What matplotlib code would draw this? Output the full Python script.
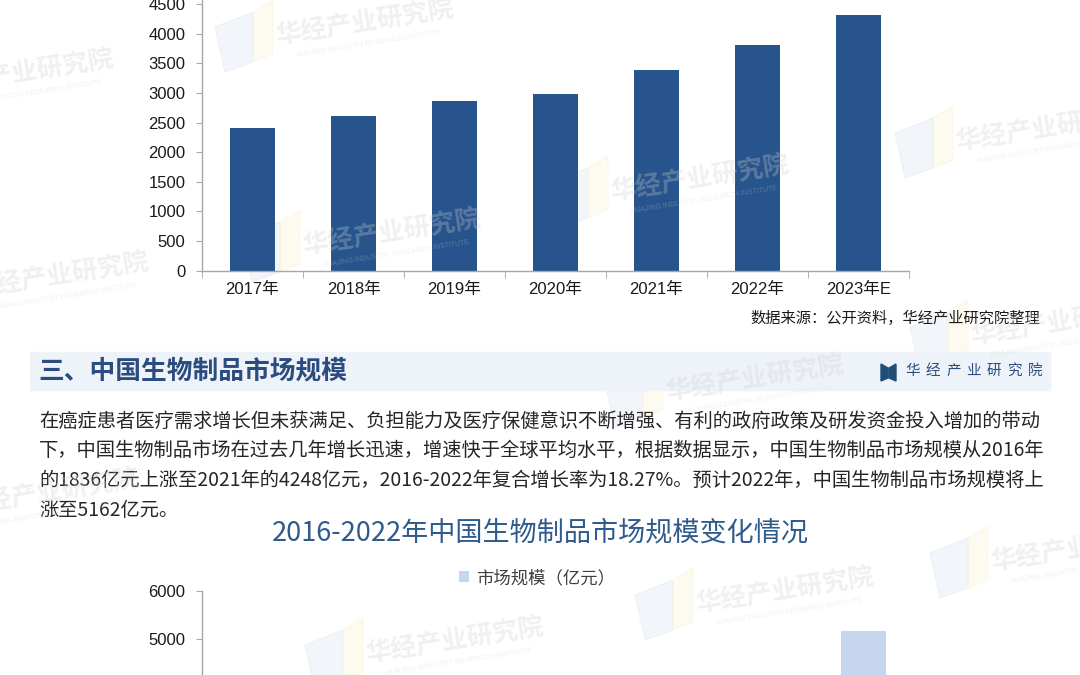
import numpy as np
import matplotlib
matplotlib.use('Agg')
import matplotlib.pyplot as plt
from matplotlib.patches import Rectangle, Polygon

# ---- data ----
years_top = ['2017年', '2018年', '2019年', '2020年', '2021年', '2022年', '2023年E']
values_top = [2400, 2610, 2870, 2975, 3385, 3805, 4310]

years_bottom = ['2016年', '2017年', '2018年', '2019年', '2020年', '2021年', '2022年']
values_bottom = [1836, 2185, 2622, 3172, 3697, 4248, 5162]
legend_label = '市场规模（亿元）'

source_text = '数据来源：公开资料，华经产业研究院整理'
section_title = '三、中国生物制品市场规模'
brand = '华经产业研究院'
chart2_title = '2016-2022年中国生物制品市场规模变化情况'
body_lines = [
    '在癌症患者医疗需求增长但未获满足、负担能力及医疗保健意识不断增强、有利的政府政策及研发资金投入增加的带动',
    '下，中国生物制品市场在过去几年增长迅速，增速快于全球平均水平，根据数据显示，中国生物制品市场规模从2016年',
    '的1836亿元上涨至2021年的4248亿元，2016-2022年复合增长率为18.27%。预计2022年，中国生物制品市场规模将上',
    '涨至5162亿元。',
]

W, H = 1080, 675
CJK = ['Noto Sans CJK SC', 'DejaVu Sans']
LAT = ['Liberation Sans', 'Noto Sans CJK SC']
plt.rcParams['font.family'] = LAT


def fx(px):
    return px / W


def fy(py):
    return 1 - py / H


fig = plt.figure(figsize=(10.8, 6.75), dpi=100)
fig.patch.set_facecolor('white')


def style_axes(ax, labels):
    for s in ['top', 'right']:
        ax.spines[s].set_visible(False)
    for s in ['left', 'bottom']:
        ax.spines[s].set_color('#A6A6A6')
        ax.spines[s].set_linewidth(1)
    ax.set_xlim(-0.5, 6.5)
    ax.set_xticks(range(len(labels)))
    ax.set_xticklabels(labels, fontsize=12, color='#1A1A1A')
    ax.set_xticks(np.arange(-0.5, 7, 1), minor=True)
    ax.tick_params(axis='x', which='major', length=0, pad=8)
    ax.tick_params(axis='x', which='minor', length=5, color='#A6A6A6')
    ax.tick_params(axis='y', length=4, color='#A6A6A6', labelsize=12,
                   labelcolor='#1A1A1A', pad=8)
    ax.set_facecolor('none')


# ---- faint watermarks (drawn first, behind everything) ----
wm_spots = [(365, 22), (25, 72), (700, 178), (392, 232), (1045, 128), (60, 275),
            (755, 378), (1060, 322), (50, 492), (785, 590), (455, 640), (1080, 548)]
for x, y in wm_spots:
    fig.text(fx(x), fy(y), brand, ha='center', va='center', fontsize=18.5,
             rotation=9, color='#CFCFCF', alpha=0.3, family=CJK,
             fontweight='bold', zorder=10)
    fig.text(fx(x + 4), fy(y + 22), 'HUAJING INDUSTRY RESEARCH INSTITUTE',
             ha='center', va='center', fontsize=5, rotation=9, color='#CFCFCF',
             alpha=0.3, zorder=10)
    fig.patches.append(Polygon([(fx(x - 150), fy(y + 5)), (fx(x - 112), fy(y - 10)),
                                (fx(x - 112), fy(y + 40)), (fx(x - 140), fy(y + 50))],
                               closed=True, transform=fig.transFigure,
                               color='#E3EBF5', alpha=0.45, zorder=-2))
    fig.patches.append(Polygon([(fx(x - 112), fy(y - 10)), (fx(x - 92), fy(y - 22)),
                                (fx(x - 92), fy(y + 32)), (fx(x - 112), fy(y + 40))],
                               closed=True, transform=fig.transFigure,
                               color='#FBF5DC', alpha=0.45, zorder=-2))

# ---- top chart (cut off at the top) ----
ax1 = fig.add_axes([fx(202), fy(270.7), (909 - 202) / W, 296.3 / H])
ax1.bar(range(len(values_top)), values_top, width=0.44, color='#27548C', zorder=2)
ax1.set_ylim(0, 5000)
ax1.set_yticks(range(0, 5001, 500))
style_axes(ax1, years_top)

fig.text(fx(1040), fy(318), source_text, ha='right', va='center',
         fontsize=11, color='#1A1A1A', family=CJK)

# ---- section header ----
fig.patches.append(Rectangle((fx(30), fy(390)), fx(1050) - fx(30), fy(352) - fy(390),
                             transform=fig.transFigure, color='#EEF3F9', zorder=-1))
fig.text(fx(38), fy(371), section_title, ha='left', va='center', fontsize=18.5,
         color='#2B4C7E', family=CJK, fontweight='bold')
fig.patches.append(Polygon([(fx(881), fy(364)), (fx(888), fy(368)), (fx(888), fy(378)),
                            (fx(881), fy(381))], closed=True,
                           transform=fig.transFigure, color='#1F4E79'))
fig.patches.append(Polygon([(fx(896), fy(364)), (fx(889), fy(368)), (fx(889), fy(378)),
                            (fx(896), fy(381))], closed=True,
                           transform=fig.transFigure, color='#1F4E79'))
for i, ch in enumerate(brand):
    fig.text(fx(913 + i * 20.3), fy(371), ch, ha='center', va='center',
             fontsize=10.5, color='#2B4C7E', family=CJK)

# ---- body text ----
for i, line in enumerate(body_lines):
    fig.text(fx(39), fy(421 + i * 29.7), line, ha='left', va='center',
             fontsize=13.9, color='#262626', family=CJK)

# ---- bottom chart (cut off at the bottom) ----
fig.text(0.5, fy(533), chart2_title, ha='center', va='center', fontsize=19.5,
         color='#2E5A8C', family=CJK, fontweight='medium')

ax2 = fig.add_axes([fx(202), fy(882.3), (914 - 202) / W, 291.6 / H])
bars2 = ax2.bar(range(len(values_bottom)), values_bottom, width=0.44,
                color='#C5D6EE', zorder=2, label=legend_label)
ax2.set_ylim(0, 6000)
ax2.set_yticks(range(0, 6001, 1000))
style_axes(ax2, years_bottom)
leg = ax2.legend(loc='center', bbox_to_anchor=(fx(537), fy(578)),
                 bbox_transform=fig.transFigure, frameon=False,
                 handlelength=0.6, handleheight=0.6, handletextpad=0.4,
                 prop={'family': CJK, 'size': 12.5})
for t in leg.get_texts():
    t.set_color('#404040')

fig.savefig('out.png', dpi=100)
